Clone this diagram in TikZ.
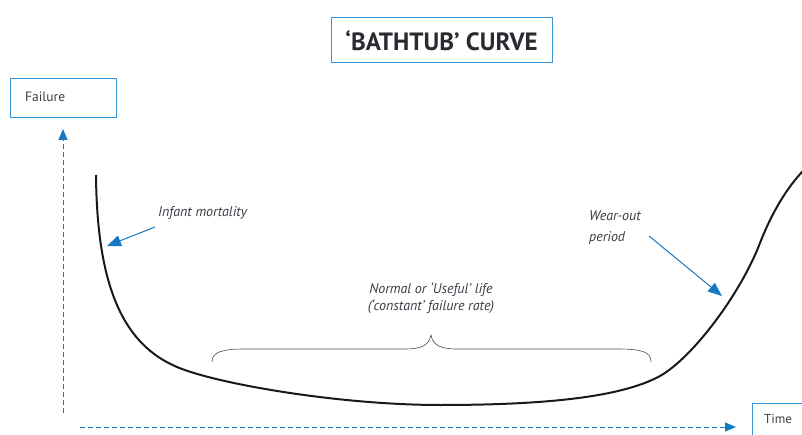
\documentclass[tikz,border=0pt]{standalone}
\usepackage{fontspec}
\setmainfont{PT Sans}
\usetikzlibrary{arrows.meta}
\definecolor{arrowblue}{RGB}{20,120,195}
\definecolor{boxblue}{RGB}{55,150,215}
\definecolor{txtgray}{RGB}{60,60,70}
\tikzset{
  labelbox/.style={draw=boxblue, line width=1pt, rectangle, inner sep=0pt},
  lbl/.style={font=\fontsize{14}{18}\selectfont\itshape, text=txtgray, align=center, inner sep=0pt},
  axis/.style={draw=arrowblue, dashed, dash pattern=on 5pt off 3pt, line width=0.9pt, -{Triangle[width=9pt,length=11pt]}},
  pointer/.style={draw=arrowblue, line width=1pt, -{Triangle[width=11pt,length=14pt]}},
}
\begin{document}
\begin{tikzpicture}[x=1pt,y=-1pt]
\useasboundingbox (0,0) rectangle (802,435);
% title
\node[labelbox, minimum width=221pt, minimum height=45pt] (title) at (441.5,40.5) {};
\node[font=\fontsize{25}{28}\selectfont\bfseries, text=txtgray!70!black, inner sep=0pt] (titletext) at (title) {`BATHTUB' CURVE};
% failure box
\node[labelbox, minimum width=106pt, minimum height=39pt] (failbox) at (63,98.5) {};
\node[font=\fontsize{13.5}{15}\selectfont, text=txtgray, anchor=west, inner sep=0pt] (failtext) at (25,97) {Failure};
% time box
\node[labelbox, minimum width=60pt, minimum height=36pt, anchor=north west] (timebox) at (752,402.5) {};
\node[font=\fontsize{13}{15}\selectfont, text=txtgray, anchor=west, inner sep=0pt] (timetext) at (764,419) {Time};
% axes
\coordinate (yb) at (63,413);
\coordinate (yt) at (63,129);
\coordinate (xl) at (80,427);
\coordinate (xr) at (736,427);
\draw[axis] (yb) -- (yt);
\draw[axis] (xl) -- (xr);
% bathtub curve
\draw[line width=2pt, black!90]
  (96,175) .. controls (97,290) and (125,345) .. (177,367)
  .. controls (217,384) and (340,405) .. (440,405)
  .. controls (540,405) and (620,398) .. (660,376)
  .. controls (692,358) and (740,295) .. (760,243)
  .. controls (772,212) and (788,186) .. (804,170);
% brace
\draw[line width=0.6pt, black!70]
  (212,362) .. controls (212,352) and (222,349) .. (245,349) -- (405,349)
  .. controls (422,349) and (429,345) .. (431,335)
  .. controls (433,345) and (440,349) .. (457,349) -- (618,349)
  .. controls (642,349) and (651,352) .. (651,362);
% labels
\node[lbl, anchor=west] (infant) at (158,213) {Infant mortality};
\node[lbl, align=left, anchor=west, font=\fontsize{14}{21}\selectfont\itshape] (wear) at (589,228) {Wear-out\\period};
\node[lbl, font=\fontsize{14}{17}\selectfont\itshape] (normal) at (431,298) {Normal or `Useful' life\\(`constant' failure rate)};
% pointers
\coordinate (ia) at (155,227);
\coordinate (ib) at (107,246);
\coordinate (wa) at (649,236);
\coordinate (wb) at (722,296);
\draw[pointer] (ia) -- (ib);
\draw[pointer] (wa) -- (wb);
\end{tikzpicture}
\end{document}
